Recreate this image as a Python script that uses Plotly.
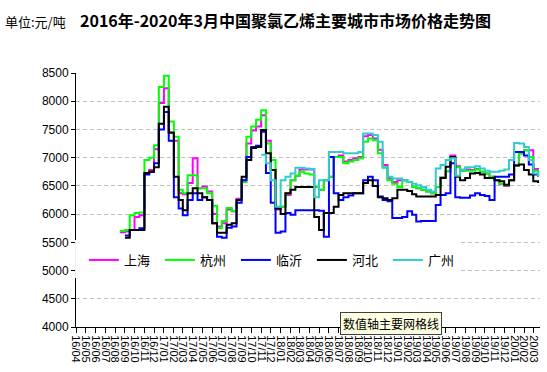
import plotly.graph_objects as go

dates = [
    "2016-08-16", "2016-09-01", "2016-09-16", "2016-10-01", "2016-10-16", "2016-11-01", "2016-11-16",
    "2016-12-01", "2016-12-16", "2017-01-01", "2017-01-16", "2017-02-01", "2017-02-16", "2017-03-01",
    "2017-03-16", "2017-04-01", "2017-04-16", "2017-05-01", "2017-05-16", "2017-06-01", "2017-06-16",
    "2017-07-01", "2017-07-16", "2017-08-01", "2017-08-16", "2017-09-01", "2017-09-16", "2017-10-01",
    "2017-10-16", "2017-11-01", "2017-11-16", "2017-12-01", "2017-12-16", "2018-01-01", "2018-01-16",
    "2018-02-01", "2018-02-16", "2018-03-01", "2018-03-16", "2018-04-01", "2018-04-16", "2018-05-01",
    "2018-05-16", "2018-06-01", "2018-06-16", "2018-07-01", "2018-07-16", "2018-08-01", "2018-08-16",
    "2018-09-01", "2018-09-16", "2018-10-01", "2018-10-16", "2018-11-01", "2018-11-16", "2018-12-01",
    "2018-12-16", "2019-01-01", "2019-01-16", "2019-02-01", "2019-02-16", "2019-03-01", "2019-03-16",
    "2019-04-01", "2019-04-16", "2019-05-01", "2019-05-16", "2019-06-01", "2019-06-16", "2019-07-01",
    "2019-07-16", "2019-08-01", "2019-08-16", "2019-09-01", "2019-09-16", "2019-10-01", "2019-10-16",
    "2019-11-01", "2019-11-16", "2019-12-01", "2019-12-16", "2020-01-01", "2020-01-16", "2020-02-01",
    "2020-02-16", "2020-03-01", "2020-03-16",
]

shanghai = [
    5680, 5690, 5720, 5950, 5980, 6730, 6780, 7150, 7970, 8230, 7450, 7300, 6370, 6350, 6550, 6990,
    6460, 6490, 6400, 6000, 5780, 5840, 6080, 6050, 6270, 6600, 7250, 7480, 7550, 7750, 7300, 6780,
    6080, 6130, 6340, 6600, 6680, 6790, 6790, 6790, 6480, 6430, 6600, 6660, 7010, 7040, 6930, 6960,
    6990, 7010, 7380, 7400, 7340, 7140, 6870, 6630, 6570, 6600, 6600, 6570, 6480, 6460, 6430, 6400,
    6370, 6480, 6650, 6760, 7040, 6850, 6770, 6790, 6780, 6800, 6750, 6720, 6660, 6600, 6530, 6500,
    6600, 6860, 7100, 7130, 7130, 6800, 6680,
]

hangzhou = [
    5700, 5720, 5980, 6020, 6030, 6960, 7000, 7220, 8250, 8450, 7640, 7370, 6430, 6370, 6690, 6690,
    6460, 6460, 6370, 6150, 5750, 5880, 6110, 6050, 6250, 6570, 7370, 7550, 7670, 7840, 7250, 6960,
    6130, 6130, 6370, 6600, 6680, 6750, 6720, 6700, 6480, 6430, 6600, 6660, 7010, 7010, 6900, 6930,
    6960, 6990, 7280, 7340, 7310, 7080, 6820, 6600, 6540, 6480, 6600, 6570, 6480, 6460, 6430, 6400,
    6370, 6480, 6650, 6760, 7010, 6830, 6770, 6770, 6770, 6790, 6750, 6720, 6660, 6600, 6540, 6510,
    6600, 6870, 7070, 7130, 7010, 6770, 6660,
]

linyi = [
    None, 5620, 5720, 5720, 5750, 6700, 6750, 6900, 7500, 7810, 7300, 6300, 6100, 5980, 6250, 6370,
    6250, 6300, 6250, 5840, 5600, 5580, 5760, 5780, 6200, 6600, 7010, 7190, 7210, 7460, 6730, 6200,
    5670, 5690, 6020, 5990, 6070, 6070, 6070, 6070, 6070, 6060, 5600, 7010, 6370, 6250, 6300, 6330,
    6370, 6370, 6600, 6660, 6600, 6310, 6250, 6230, 5930, 5930, 5950, 6050, 5990, 5870, 5880, 5880,
    5880, 6160, 6340, 6370, 6900, 6300, 6290, 6290, 6330, 6370, 6340, 6320, 6250, 6660, 6660, 6660,
    6700, 7100, 7100, 7040, 6880, 6700, 6660,
]

hebei = [
    None, 5580, 5720, 5720, 5720, 6730, 6750, 6830, 7600, 7900, 7440, 6660, 6250, 6070, 6370, 6460,
    6370, 6300, 6250, 5840, 5670, 5670, 5810, 5840, 6250, 6660, 6960, 7170, 7190, 7490, 7080, 6780,
    6100, 6000, 6370, 6430, 6480, 6480, 6480, 6480, 5950, 5720, 6020, 6020, 6130, 6340, 6370, 6370,
    6370, 6370, 6550, 6600, 6500, 6300, 6280, 6250, 6280, 6430, 6430, 6410, 6350, 6310, 6310, 6310,
    6310, 6340, 6640, 6840, 7010, 6660, 6600, 6640, 6720, 6730, 6700, 6640, 6640, 6600, 6580, 6520,
    6600, 6860, 6880, 6780, 6700, 6580, 6550,
]

guangzhou = [None] * 29 + [
    7050, 6900, 6600, 6130, 6600, 6660, 6720, 6820, 6820, 6810, 6800, 6300, 6600, 6600, 7100, 7100,
    7100, 7080, 7080, 7080, 7100, 7430, 7430, 7400, 7280, 6830, 6660, 6630, 6630, 6600, 6570, 6540,
    6510, 6480, 6430, 6400, 6810, 6870, 6960, 6990, 6680, 6790, 6830, 6830, 6850, 6810, 6770, 6750,
    6750, 6770, 6790, 6960, 7260, 7250, 7190, 6960, 6720, 6660,
]

series = [
    ("上海", shanghai, "#FF00FF"),
    ("杭州", hangzhou, "#00FF00"),
    ("临沂", linyi, "#0000FF"),
    ("河北", hebei, "#000000"),
    ("广州", guangzhou, "#33CCCC"),
]

CJK = "Noto Sans CJK SC"
LAT = "Liberation Sans"

fig = go.Figure()
for name, vals, color in series:
    fig.add_trace(go.Scatter(
        x=dates, y=vals, name=name, mode="lines",
        line=dict(color=color, width=2, shape="hv"),
        connectgaps=False,
    ))

fig.update_layout(
    template="none",
    width=547, height=372,
    margin=dict(l=76, r=7, t=73, b=45),
    paper_bgcolor="white", plot_bgcolor="white",
    showlegend=True,
    legend=dict(
        orientation="h", x=0.017, xanchor="left", y=0.2638, yanchor="middle",
        bgcolor="rgba(0,0,0,0)", borderwidth=0,
        font=dict(family=CJK, size=13, color="black"),
        entrywidth=31, entrywidthmode="pixels",
    ),
    xaxis=dict(
        type="date", range=["2016-04-01", "2020-03-22"],
        tickmode="linear", tick0="2016-04-01", dtick="M1", tickformat="%y/%m",
        tickangle=90, ticks="outside", ticklen=5, tickcolor="black",
        showline=True, linecolor="black", linewidth=1,
        showgrid=False, zeroline=False, automargin=False,
        tickfont=dict(family=LAT, size=11, color="black"),
    ),
    yaxis=dict(
        range=[4000, 8500], tickmode="linear", tick0=4000, dtick=500,
        ticks="outside", ticklen=4, tickcolor="black",
        showline=True, linecolor="black", linewidth=1,
        showgrid=True, gridcolor="#C0C0C0", griddash="4px,3px", gridwidth=1,
        zeroline=False, automargin=False,
        tickfont=dict(family=LAT, size=12, color="black"),
    ),
    shapes=[dict(
        type="rect", xref="paper", yref="paper",
        x0=-0.002, x1=0.8276, y0=0.193, y1=0.3425,
        fillcolor="white", line=dict(width=0), layer="above",
    )],
    annotations=[
        dict(text="<b>2016年-2020年3月中国聚氯乙烯主要城市市场价格走势图</b>",
             xref="paper", yref="paper", x=(285 - 76) / 464, y=1 + (73 - 20.5) / 254,
             xanchor="center", yanchor="middle", showarrow=False,
             font=dict(family=CJK, size=16, color="black")),
        dict(text="单位:元/吨", xref="paper", yref="paper",
             x=(3 - 76) / 464, y=1 + (73 - 21.5) / 254,
             xanchor="left", yanchor="middle", showarrow=False,
             font=dict(family=CJK, size=13, color="black")),
        dict(text="数值轴主要网格线", xref="paper", yref="paper",
             x=(390.5 - 76) / 464, y=(327 - 323.5) / 254,
             xanchor="center", yanchor="middle", showarrow=False,
             bgcolor="#FFFFE1", bordercolor="#404040", borderwidth=1, borderpad=2,
             font=dict(family=CJK, size=12, color="black")),
    ],
)

fig.write_html(
    "out.html",
    config={"displayModeBar": False},
    post_script="document.body.style.margin='0';document.body.style.overflow='hidden';",
)
